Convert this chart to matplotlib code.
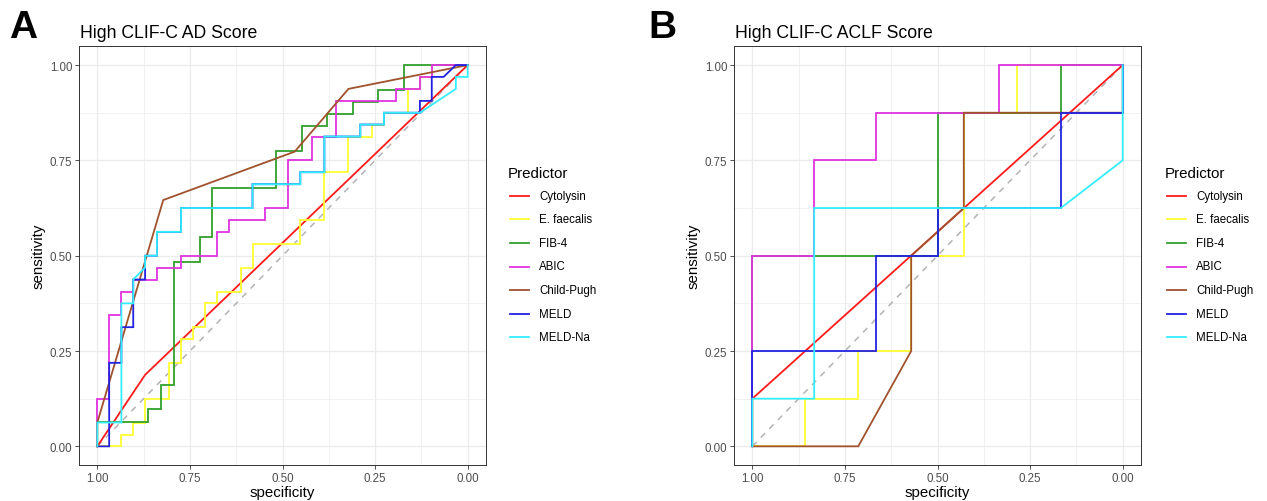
import matplotlib
matplotlib.use("Agg")
import matplotlib.pyplot as plt
from matplotlib.lines import Line2D
from matplotlib.ticker import MultipleLocator

plt.rcParams['font.family'] = ['Liberation Sans', 'DejaVu Sans']

# ---------------- data ----------------
predictors = ["Cytolysin", "E. faecalis", "FIB-4", "ABIC", "Child-Pugh", "MELD", "MELD-Na"]
colors = ["#FF1A1A", "#FFFF33", "#33A02C", "#E033E0", "#A0522D", "#2222E0", "#33EEFF"]
panel_titles = ["High CLIF-C AD Score", "High CLIF-C ACLF Score"]
panel_letters = ["A", "B"]
tick_values = [0.0, 0.25, 0.5, 0.75, 1.0]
tick_labels = ["0.00", "0.25", "0.50", "0.75", "1.00"]

# Panel A (High CLIF-C AD Score): specificity / sensitivity vertices
a_cytolysin_spec = [1, 0.871, 0]
a_cytolysin_sens = [0, 0.1875, 1]

a_efaecalis_spec = [1, 0.935, 0.935, 0.903, 0.903, 0.871, 0.871, 0.806, 0.806, 0.774, 0.774, 0.742, 0.742,
                    0.710, 0.710, 0.677, 0.677, 0.613, 0.613, 0.581, 0.581, 0.452, 0.452, 0.387, 0.387,
                    0.323, 0.323, 0.258, 0.258, 0.226, 0.226, 0.161, 0.161, 0.129, 0.129, 0.097, 0.097, 0]
a_efaecalis_sens = [0, 0, 0.031, 0.031, 0.0625, 0.0625, 0.125, 0.125, 0.219, 0.219, 0.281, 0.281, 0.3125,
                    0.3125, 0.375, 0.375, 0.406, 0.406, 0.469, 0.469, 0.531, 0.531, 0.594, 0.594, 0.719,
                    0.719, 0.8125, 0.8125, 0.844, 0.844, 0.875, 0.875, 0.9375, 0.9375, 0.969, 0.969, 1, 1]

a_fib4_spec = [1, 1, 0.862, 0.862, 0.828, 0.828, 0.793, 0.793, 0.724, 0.724, 0.690, 0.690, 0.517, 0.517,
               0.448, 0.448, 0.379, 0.379, 0.310, 0.310, 0.241, 0.241, 0.172, 0.172, 0]
a_fib4_sens = [0, 0.0645, 0.0645, 0.097, 0.097, 0.161, 0.161, 0.484, 0.484, 0.548, 0.548, 0.677, 0.677,
               0.774, 0.774, 0.839, 0.839, 0.871, 0.871, 0.903, 0.903, 0.935, 0.935, 1, 1]

a_abic_spec = [1, 1, 0.968, 0.968, 0.935, 0.935, 0.903, 0.903, 0.839, 0.839, 0.774, 0.774, 0.677, 0.677,
               0.645, 0.645, 0.548, 0.548, 0.484, 0.484, 0.419, 0.419, 0.355, 0.355, 0.194, 0.194,
               0.129, 0.129, 0.097, 0.097, 0]
a_abic_sens = [0, 0.125, 0.125, 0.344, 0.344, 0.406, 0.406, 0.4375, 0.4375, 0.469, 0.469, 0.5, 0.5, 0.5625,
               0.5625, 0.594, 0.594, 0.625, 0.625, 0.75, 0.75, 0.8125, 0.8125, 0.906, 0.906, 0.9375,
               0.9375, 0.969, 0.969, 1, 1]

a_childpugh_spec = [1, 1, 0.822, 0.467, 0.322, 0]
a_childpugh_sens = [0, 0.0625, 0.646, 0.773, 0.9375, 1]

a_meld_spec = [1, 0.968, 0.968, 0.935, 0.935, 0.903, 0.903, 0.871, 0.871, 0.871, 0.839, 0.839, 0.774, 0.774,
               0.581, 0.581, 0.452, 0.452, 0.387, 0.387, 0.290, 0.290, 0.226, 0.226, 0.129, 0.129,
               0.097, 0.097, 0.065, 0.032, 0]
a_meld_sens = [0, 0, 0.219, 0.219, 0.3125, 0.3125, 0.4375, 0.4375, 0.469, 0.5, 0.5, 0.5625, 0.5625, 0.625,
               0.625, 0.6875, 0.6875, 0.719, 0.719, 0.8125, 0.8125, 0.844, 0.844, 0.875, 0.875, 0.906,
               0.906, 0.969, 0.969, 1, 1]

a_meldna_spec = [1, 1, 0.935, 0.935, 0.903, 0.903, 0.871, 0.871, 0.839, 0.839, 0.774, 0.774, 0.581, 0.581,
                 0.452, 0.452, 0.387, 0.387, 0.290, 0.290, 0.226, 0.226, 0.129, 0.032, 0.032, 0, 0]
a_meldna_sens = [0, 0.0625, 0.0625, 0.375, 0.375, 0.4375, 0.469, 0.5, 0.5, 0.5625, 0.5625, 0.625, 0.625,
                 0.6875, 0.6875, 0.719, 0.719, 0.8125, 0.8125, 0.844, 0.844, 0.875, 0.875, 0.9375, 0.969,
                 0.969, 1]

# Panel B (High CLIF-C ACLF Score)
b_cytolysin_spec = [1, 1, 0]
b_cytolysin_sens = [0, 0.125, 1]

b_efaecalis_spec = [1, 0.857, 0.857, 0.714, 0.714, 0.571, 0.571, 0.429, 0.429, 0.286, 0.286, 0]
b_efaecalis_sens = [0, 0, 0.125, 0.125, 0.25, 0.25, 0.5, 0.5, 0.875, 0.875, 1, 1]

b_fib4_spec = [1, 1, 0.5, 0.5, 0.167, 0.167, 0]
b_fib4_sens = [0, 0.5, 0.5, 0.875, 0.875, 1, 1]

b_abic_spec = [1, 1, 0.833, 0.833, 0.667, 0.667, 0.333, 0.333, 0]
b_abic_sens = [0, 0.5, 0.5, 0.75, 0.75, 0.875, 0.875, 1, 1]

b_childpugh_spec = [1, 0.714, 0.571, 0.571, 0.429, 0.429, 0, 0]
b_childpugh_sens = [0, 0, 0.25, 0.5, 0.625, 0.875, 0.875, 1]

b_meld_spec = [1, 1, 0.667, 0.667, 0.5, 0.5, 0.167, 0.167, 0, 0]
b_meld_sens = [0, 0.25, 0.25, 0.5, 0.5, 0.625, 0.625, 0.875, 0.875, 1]

b_meldna_spec = [1, 1, 0.833, 0.833, 0.167, 0, 0]
b_meldna_sens = [0, 0.125, 0.125, 0.625, 0.625, 0.75, 1]

panel_a = [(a_cytolysin_spec, a_cytolysin_sens), (a_efaecalis_spec, a_efaecalis_sens),
           (a_fib4_spec, a_fib4_sens), (a_abic_spec, a_abic_sens),
           (a_childpugh_spec, a_childpugh_sens), (a_meld_spec, a_meld_sens),
           (a_meldna_spec, a_meldna_sens)]
panel_b = [(b_cytolysin_spec, b_cytolysin_sens), (b_efaecalis_spec, b_efaecalis_sens),
           (b_fib4_spec, b_fib4_sens), (b_abic_spec, b_abic_sens),
           (b_childpugh_spec, b_childpugh_sens), (b_meld_spec, b_meld_sens),
           (b_meldna_spec, b_meldna_sens)]

# ---------------- figure ----------------
W, H = 1267, 502
fig = plt.figure(figsize=(W / 100, H / 100), dpi=100)
fig.patch.set_facecolor("white")


def fx(px):
    return px / W


def fy(py):
    return 1 - py / H


panel_left_px = [78.8, 733.8]
panel_w_px = 407.4
panel_top_px = 47.0
panel_bot_px = 466.4
legend_x_px = [508, 1165]
letter_x_px = [9, 648]

for i, curves in enumerate([panel_a, panel_b]):
    ax = fig.add_axes([fx(panel_left_px[i]), fy(panel_bot_px),
                       fx(panel_w_px), (panel_bot_px - panel_top_px) / H])
    ax.set_xlim(1.05, -0.05)
    ax.set_ylim(-0.05, 1.05)
    ax.set_xticks(tick_values)
    ax.set_xticklabels(tick_labels)
    ax.set_yticks(tick_values)
    ax.set_yticklabels(tick_labels)
    ax.xaxis.set_minor_locator(MultipleLocator(0.125))
    ax.yaxis.set_minor_locator(MultipleLocator(0.125))
    ax.grid(True, which="major", color="#EBEBEB", lw=0.9, zorder=0)
    ax.grid(True, which="minor", color="#EBEBEB", lw=0.5, zorder=0)
    ax.set_axisbelow(True)
    ax.tick_params(which="major", length=2.6, width=0.6, color="#333333",
                   labelsize=8.3, labelcolor="#4D4D4D", pad=2)
    ax.tick_params(which="minor", length=0)
    for sp in ax.spines.values():
        sp.set_color("#333333")
        sp.set_linewidth(0.7)
    ax.plot([1, 0], [0, 1], color="#B3B3B3", lw=1.1, dashes=(4, 4), zorder=1)
    for (spec, sens), c in zip(curves, colors):
        ax.plot(spec, sens, color=c, lw=1.3, zorder=2, solid_joinstyle="miter")
    ax.set_xlabel("specificity", fontsize=10.8, labelpad=1)
    ax.set_ylabel("sensitivity", fontsize=10.8, labelpad=3)

    fig.text(fx(panel_left_px[i] + 1.5), fy(37.5), panel_titles[i], fontsize=12.7,
             ha="left", va="baseline")
    fig.text(fx(letter_x_px[i]), fy(38), panel_letters[i], fontsize=28,
             fontweight="bold", ha="left", va="baseline")

    # legend (ggplot style)
    lx = legend_x_px[i]
    fig.text(fx(lx), fy(177.5), "Predictor", fontsize=10.9, ha="left", va="baseline")
    for k, (name, c) in enumerate(zip(predictors, colors)):
        yy = 196.7 + 23.6 * k
        fig.add_artist(Line2D([fx(lx + 2), fx(lx + 21)], [fy(yy), fy(yy)],
                              transform=fig.transFigure, color=c, lw=1.3))
        fig.text(fx(lx + 31), fy(yy), name, fontsize=8.3, ha="left", va="center")

fig.savefig("out.png", dpi=100, facecolor="white")
